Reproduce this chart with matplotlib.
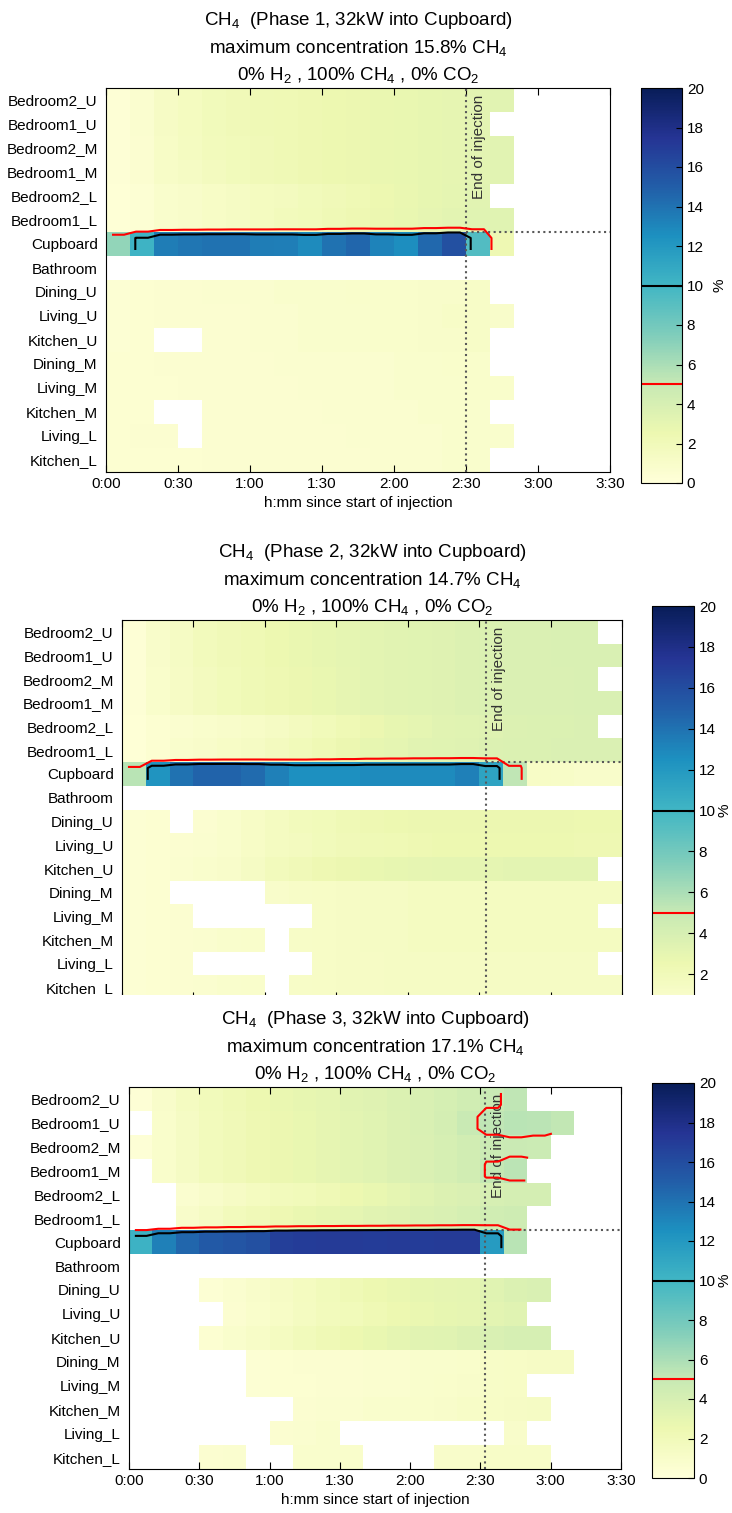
import numpy as np
import matplotlib
matplotlib.use("Agg")
import matplotlib.pyplot as plt
from matplotlib.patches import Rectangle

plt.rcParams['font.family'] = ['Liberation Sans', 'DejaVu Sans']
plt.rcParams['mathtext.fontset'] = 'custom'
plt.rcParams['mathtext.rm'] = 'Liberation Sans'
plt.rcParams['mathtext.it'] = 'Liberation Sans:italic'
plt.rcParams['mathtext.bf'] = 'Liberation Sans:bold'
plt.rcParams['mathtext.default'] = 'regular'
plt.rcParams['xtick.direction'] = 'in'
plt.rcParams['ytick.direction'] = 'in'

n = np.nan
NCOL = 21

def row(vals):
    # pad a sensor row with "no data" after its last reading
    return vals + [n] * (NCOL - len(vals))

rooms = ["Bedroom2_U", "Bedroom1_U", "Bedroom2_M", "Bedroom1_M", "Bedroom2_L", "Bedroom1_L",
         "Cupboard", "Bathroom", "Dining_U", "Living_U", "Kitchen_U", "Dining_M", "Living_M",
         "Kitchen_M", "Living_L", "Kitchen_L"]
time_edges = np.arange(0, 211, 10)          # 10 minute bins
tick_min = np.arange(0, 211, 30)
tick_labels = ["%d:%02d" % (m // 60, m % 60) for m in tick_min]

# % CH4, rows = rooms, cols = 10 min bins (0 = no reading, nan = logging stopped)
phase1 = [
    row([0.3, 0.7, 1.3, 1.6, 1.9, 2.1, 2.2, 2.3, 2.4, 2.5, 2.6, 2.7, 2.8, 2.9, 3.0, 3.2, 3.3]),
    row([0.3, 0.7, 1.3, 1.6, 1.9, 2.1, 2.2, 2.3, 2.4, 2.5, 2.6, 2.7, 2.8, 2.9, 3.0, 3.2]),
    row([0.3, 0.6, 1.2, 1.5, 1.8, 2.0, 2.1, 2.3, 2.4, 2.5, 2.6, 2.7, 2.8, 2.9, 3.0, 3.2, 3.3]),
    row([0.3, 0.6, 1.1, 1.4, 1.7, 1.9, 2.1, 2.2, 2.4, 2.5, 2.6, 2.7, 2.8, 2.9, 3.0, 3.2, 3.3]),
    row([0.2, 0.4, 0.8, 1.0, 1.2, 1.4, 1.6, 1.7, 1.9, 2.1, 2.3, 2.5, 2.7, 2.9, 3.1, 3.3]),
    row([0.2, 0.4, 0.8, 1.0, 1.2, 1.4, 1.6, 1.8, 2.0, 2.2, 2.4, 2.6, 2.8, 3.0, 3.2, 3.4, 3.4]),
    row([6.8, 10.2, 13.5, 13.8, 14.0, 14.0, 13.5, 13.4, 12.8, 14.0, 14.6, 13.2, 12.6, 14.5, 15.8, 9.3, 2.4]),
    row([]),
    row([0.4, 0.5, 0.6, 0.6, 0.7, 0.7, 0.7, 0.8, 0.8, 0.8, 0.9, 0.9, 0.9, 1.0, 1.0, 1.1]),
    row([0.4, 0.5, 0.6, 0.6, 0.6, 0.6, 0.7, 0.7, 0.8, 0.8, 0.8, 0.9, 0.9, 1.0, 1.1, 1.1, 1.0]),
    row([0.4, 0.5, 0, 0, 0.6, 0.6, 0.7, 0.7, 0.8, 0.8, 0.8, 0.9, 0.9, 1.0, 1.0, 1.1]),
    row([0.5, 0.5, 0.6, 0.6, 0.6, 0.6, 0.6, 0.7, 0.7, 0.7, 0.7, 0.7, 0.8, 0.8, 0.9, 0.9]),
    row([0.5, 0.5, 0.5, 0.6, 0.6, 0.6, 0.6, 0.6, 0.7, 0.7, 0.7, 0.7, 0.8, 0.8, 0.8, 0.9, 0.9]),
    row([0.5, 0.5, 0, 0, 0.6, 0.6, 0.6, 0.6, 0.6, 0.7, 0.7, 0.7, 0.7, 0.8, 0.8, 0.8]),
    row([0.5, 0.6, 0.6, 0, 0.6, 0.6, 0.6, 0.6, 0.6, 0.6, 0.7, 0.7, 0.7, 0.7, 0.8, 0.8, 0.8]),
    row([0.5, 0.5, 0.5, 0.5, 0.6, 0.6, 0.6, 0.6, 0.6, 0.6, 0.6, 0.7, 0.7, 0.7, 0.8, 0.8]),
]

phase2 = [
    row([0.3, 1.0, 1.4, 1.8, 2.1, 2.3, 2.5, 2.7, 2.9, 3.1, 3.2, 3.3, 3.4, 3.5, 3.6, 3.7, 3.8, 3.8, 3.9, 3.9]),
    row([0.3, 1.0, 1.4, 1.8, 2.1, 2.3, 2.5, 2.7, 2.9, 3.1, 3.2, 3.3, 3.4, 3.5, 3.6, 3.7, 3.8, 3.8, 3.9, 3.9, 3.9]),
    row([0.3, 0.9, 1.3, 1.7, 2.0, 2.2, 2.4, 2.6, 2.8, 3.0, 3.2, 3.3, 3.4, 3.5, 3.6, 3.7, 3.8, 3.8, 3.8, 3.9]),
    row([0.3, 0.9, 1.3, 1.7, 2.0, 2.2, 2.4, 2.6, 2.8, 3.0, 3.2, 3.3, 3.4, 3.5, 3.6, 3.7, 3.8, 3.8, 3.8, 3.9, 3.9]),
    row([0.2, 0.5, 0.7, 0.8, 1.0, 1.1, 1.4, 1.7, 2.0, 2.3, 2.6, 2.9, 3.1, 3.3, 3.4, 3.5, 3.6, 3.7, 3.7, 3.8]),
    row([0.2, 0.5, 0.8, 1.0, 1.2, 1.4, 1.7, 2.0, 2.3, 2.6, 2.9, 3.1, 3.3, 3.4, 3.5, 3.6, 3.7, 3.7, 3.8, 3.8, 3.8]),
    row([5.5, 12.3, 14.0, 14.7, 14.7, 14.3, 13.3, 12.5, 12.5, 12.5, 12.8, 12.8, 12.8, 12.8, 13.3, 11.3, 5.3, 1.2, 1.1, 1.0, 1.0]),
    row([]),
    row([0.4, 0.5, 0, 0.6, 0.8, 1.2, 1.5, 1.8, 2.0, 2.2, 2.4, 2.5, 2.6, 2.6, 2.6, 2.6, 2.6, 2.6, 2.6, 2.5, 2.5]),
    row([0.4, 0.5, 0.6, 0.7, 0.8, 1.2, 1.5, 1.7, 1.9, 2.1, 2.2, 2.3, 2.4, 2.5, 2.5, 2.5, 2.5, 2.5, 2.5, 2.4, 2.4]),
    row([0.4, 0.5, 0.7, 0.8, 1.0, 1.4, 1.8, 2.1, 2.4, 2.6, 2.8, 2.9, 3.0, 3.1, 3.1, 3.1, 3.2, 3.2, 3.2, 3.2]),
    row([0.4, 0.5, 0, 0, 0, 0, 1.0, 1.1, 1.2, 1.3, 1.4, 1.4, 1.5, 1.5, 1.5, 1.5, 1.5, 1.5, 1.5, 1.5, 1.5]),
    row([0.4, 0.5, 0.6, 0, 0, 0, 0, 0, 1.2, 1.3, 1.4, 1.4, 1.5, 1.5, 1.5, 1.5, 1.5, 1.5, 1.5, 1.5]),
    row([0.4, 0.5, 0.6, 0.7, 0.8, 0.9, 0, 1.1, 1.2, 1.3, 1.4, 1.4, 1.5, 1.5, 1.5, 1.5, 1.5, 1.5, 1.5, 1.5, 1.5]),
    row([0.4, 0.5, 0.6, 0, 0, 0, 0, 0, 1.2, 1.3, 1.3, 1.4, 1.4, 1.4, 1.4, 1.4, 1.4, 1.4, 1.4, 1.4]),
    row([0.4, 0.5, 0.6, 0.7, 0.8, 0.9, 0, 1.1, 1.2, 1.3, 1.3, 1.4, 1.4, 1.4, 1.4, 1.4, 1.4, 1.4, 1.4, 1.4, 1.4]),
]

phase3 = [
    row([0.3, 1.0, 1.5, 1.9, 2.2, 2.5, 2.7, 2.9, 3.1, 3.3, 3.5, 3.7, 3.9, 4.1, 4.4, 4.9, 5.3]),
    row([0, 0.9, 1.4, 1.8, 2.1, 2.4, 2.6, 2.8, 3.0, 3.2, 3.4, 3.6, 3.9, 4.2, 4.9, 5.3, 5.5, 5.4, 5.2]),
    row([0.3, 0.9, 1.4, 1.8, 2.1, 2.4, 2.6, 2.8, 3.0, 3.2, 3.4, 3.6, 3.8, 4.0, 4.3, 4.7, 4.8, 4.7]),
    row([0, 0.9, 1.4, 1.8, 2.1, 2.4, 2.6, 2.8, 3.0, 3.2, 3.4, 3.6, 3.8, 4.0, 4.3, 5.1, 5.4]),
    row([0, 0, 0.7, 1.0, 1.3, 1.6, 1.8, 2.0, 2.2, 2.5, 2.8, 3.1, 3.4, 3.6, 3.8, 4.0, 4.2, 4.2]),
    row([0, 0, 1.0, 1.4, 1.8, 2.1, 2.4, 2.7, 2.9, 3.1, 3.3, 3.5, 3.7, 3.9, 4.1, 4.4, 4.6]),
    row([10.3, 13.3, 14.6, 15.3, 15.5, 15.8, 16.8, 17.0, 17.1, 17.1, 17.0, 17.1, 17.0, 17.1, 17.1, 11.8, 5.5]),
    row([]),
    row([0, 0, 0, 0.4, 0.7, 1.0, 1.3, 1.6, 1.9, 2.2, 2.5, 2.7, 2.9, 3.0, 3.1, 3.4, 3.7, 3.9]),
    row([0, 0, 0, 0, 0.6, 0.9, 1.2, 1.5, 1.8, 2.0, 2.3, 2.5, 2.7, 2.9, 3.0, 3.2, 3.4]),
    row([0, 0, 0, 0.5, 0.8, 1.1, 1.5, 1.9, 2.2, 2.5, 2.8, 3.1, 3.3, 3.4, 3.6, 3.9, 4.0, 4.0]),
    row([0, 0, 0, 0, 0, 0.4, 0.5, 0.6, 0.6, 0.6, 0.7, 0.7, 0.8, 0.8, 0.9, 1.1, 1.2, 1.3, 1.3]),
    row([0, 0, 0, 0, 0, 0.4, 0.5, 0.5, 0.6, 0.6, 0.7, 0.7, 0.8, 0.9, 1.0, 1.1, 1.2]),
    row([0, 0, 0, 0, 0, 0, 0, 0.6, 0.7, 0.7, 0.8, 0.8, 0.9, 1.0, 1.1, 1.2, 1.3, 1.4]),
    row([0, 0, 0, 0, 0, 0, 0.6, 0.7, 0.8, 0, 0, 0, 0, 0, 0, 0, 1.0]),
    row([0, 0, 0, 0.6, 0.7, 0, 0, 0.8, 0.8, 0.9, 0, 0, 0, 1.0, 1.0, 1.1, 1.1, 1.1]),
]

phases = [1, 2, 3]
peaks = [15.8, 14.7, 17.1]
end_minutes = [150, 153, 152]

W, H = 732, 1513
fig = plt.figure(figsize=(W / 100, H / 100), dpi=100)

def box(l, t, r, b):
    return [l / W, 1 - b / H, (r - l) / W, (b - t) / H]

ax_boxes = [box(106, 88, 610, 472), box(122, 620, 622, 999), box(129, 1087, 621, 1469)]
cb_boxes = [box(641, 88, 682, 483), box(652, 606, 694, 1015), box(652, 1083, 694, 1478)]
cb_labelpad = [6, 1, 1]


def draw(ax, cax, data, phase, peak, t_end, show_x, lpad):
    z = np.array(data, dtype=float)
    shown = np.ma.masked_where(~(z > 0), z)
    mesh = ax.pcolormesh(time_edges, np.arange(len(rooms) + 1), shown,
                         cmap='YlGnBu', vmin=0, vmax=20)
    # contours on a 2x refined grid so lines hug the cell edges
    fine = np.ma.masked_invalid(np.repeat(np.repeat(z, 2, axis=0), 2, axis=1))
    xs = (np.arange(fine.shape[1]) + 0.5) * 5
    ys = (np.arange(fine.shape[0]) + 0.5) * 0.5
    cs = ax.contour(xs, ys, fine, levels=[5, 10], colors=['red', 'black'], linewidths=1.5, zorder=3)

    cup = rooms.index("Cupboard")
    ax.axvline(t_end, color='0.35', ls=':', lw=1.5, zorder=2.5)
    ax.plot([t_end, 210], [cup, cup], color='0.35', ls=':', lw=1.5, zorder=2.5)
    ax.text(t_end + 2.5, 0.3, 'End of injection', rotation=90, ha='left', va='top',
            fontsize=11, color='0.2', zorder=2)

    ax.set_xlim(0, 210)
    ax.set_ylim(len(rooms), 0)
    ax.set_xticks(tick_min, tick_labels)
    ax.set_yticks(np.arange(len(rooms)) + 0.5, rooms)
    ax.tick_params(axis='x', top=True, length=5, labelsize=11, labelbottom=show_x)
    ax.tick_params(axis='y', length=0, pad=6, labelsize=11)
    if show_x:
        ax.set_xlabel('h:mm since start of injection', fontsize=11, labelpad=4)
    ax.set_title('CH$_4$  (Phase %d, 32kW into Cupboard)\n'
                 'maximum concentration %.1f%% CH$_4$\n'
                 '0%% H$_2$ , 100%% CH$_4$ , 0%% CO$_2$' % (phase, peak),
                 fontsize=13.5, linespacing=1.45, pad=6)

    cb = fig.colorbar(mesh, cax=cax, ticks=np.arange(0, 21, 2))
    cb.add_lines(cs)
    cax.tick_params(direction='in', length=4, labelsize=11)
    cb.set_label('%', fontsize=11, labelpad=lpad)


datasets = [phase1, phase2, phase3]
axes = []
for i in range(3):
    ax = fig.add_axes(ax_boxes[i])
    cax = fig.add_axes(cb_boxes[i])
    draw(ax, cax, datasets[i], phases[i], peaks[i], end_minutes[i], i != 1, cb_labelpad[i])
    axes.append((ax, cax))

# the middle panel is cut off just above the third title
axes[2][0].set_zorder(2)
axes[2][1].set_zorder(2)
fig.add_artist(Rectangle((0, (H - 1050) / H), 1, 55 / H, transform=fig.transFigure,
                         facecolor='white', edgecolor='none', zorder=1))

fig.savefig('out.png', dpi=100)
